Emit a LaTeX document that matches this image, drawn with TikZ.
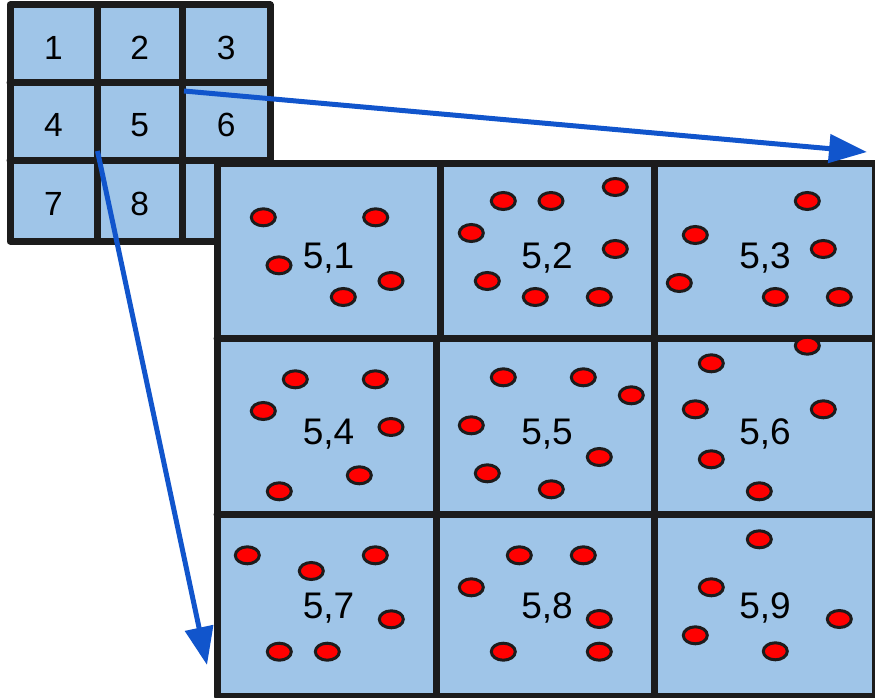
\documentclass[tikz,border=0pt]{standalone}
\usepackage{fontspec}
\setmainfont{Liberation Sans}
\usetikzlibrary{arrows.meta}
\definecolor{cellblue}{HTML}{9FC5E8}
\definecolor{gridline}{HTML}{1C1C1C}
\definecolor{arrowblue}{HTML}{1155CC}
\begin{document}
\begin{tikzpicture}[x=1pt,y=-1pt,
 gridstroke/.style={draw=gridline, line width=7pt, line join=round, line cap=round},
 dotmark/.style={fill=red, draw=gridline, line width=3pt},
 biglabel/.style={anchor=base, inner sep=0pt, font=\fontsize{37}{37}\selectfont},
 smalllabel/.style={anchor=base, inner sep=0pt, font=\fontsize{33.5}{33.5}\selectfont},
 bluearrow/.style={draw=arrowblue, line width=5pt, -{Triangle[length=38pt,width=28pt]}}]
\useasboundingbox (0,0) rectangle (875,698);
% small grid
\fill[cellblue] (10,5) rectangle (270,241);
\draw[gridstroke] (10,5) rectangle (270,241);
\draw[gridstroke] (97,5) -- (97,241) (182.5,5) -- (182.5,241) (10,83) -- (270,83) (10,160) -- (270,160);
\node[smalllabel] (n1) at (53.5,59.3) {1};
\node[smalllabel] (n2) at (139.7,59.3) {2};
\node[smalllabel] (n3) at (226.2,59.3) {3};
\node[smalllabel] (n4) at (53.5,136.7) {4};
\node[smalllabel] (n5) at (139.7,136.7) {5};
\node[smalllabel] (n6) at (226.2,136.7) {6};
\node[smalllabel] (n7) at (53.5,215) {7};
\node[smalllabel] (n8) at (139.7,215) {8};
% big grid
\fill[cellblue] (217,163.5) rectangle (875.5,696.5);
\draw[gridstroke] (217,163.5) rectangle (875.5,696.5);
\draw[gridstroke] (217,338.5) -- (875.5,338.5) (217,514.3) -- (875.5,514.3)
  (440,163.5) -- (440,338.5) (654.5,163.5) -- (654.5,696.5) (436,338.5) -- (436,696.5);
\node[biglabel] (m1) at (328.5,268) {5,1};
\node[biglabel] (m2) at (547,268) {5,2};
\node[biglabel] (m3) at (765,268) {5,3};
\node[biglabel] (m4) at (328.5,444) {5,4};
\node[biglabel] (m5) at (547,444) {5,5};
\node[biglabel] (m6) at (765,444) {5,6};
\node[biglabel] (m7) at (328.5,618.3) {5,7};
\node[biglabel] (m8) at (547,618.3) {5,8};
\node[biglabel] (m9) at (765,618.3) {5,9};
% dots
\foreach \px/\py in {
 263.3/217.3, 375.7/217.3, 279/265.3, 391/281, 343.3/297,
 503.3/201, 551/201, 615.3/187, 471.3/233, 615.3/249, 487.3/281, 535.3/297, 599.3/297,
 807.3/201, 695.3/235, 823.3/249, 679.3/283, 775.3/297, 839.3/297,
 295.3/379.3, 375.3/379.3, 263.3/411, 391/427, 359.3/475.3, 279.3/491.3,
 503.3/377.3, 583.3/377.3, 631.3/395.3, 471.3/425.3, 599.3/457, 487.3/473.3, 551.3/489.3,
 807.3/345.7, 711.3/363.3, 695.3/409.3, 823.3/409.3, 711.3/459.3, 759.3/491.3,
 247.3/555.3, 375.3/555.3, 311.3/571, 391.3/619.3, 279.3/651.7, 327.3/651.7,
 519.3/555.3, 583.3/555.3, 471.3/587.3, 599.3/619, 503.3/651.7, 599.3/651.7,
 759.3/539.3, 711.3/587.3, 839.3/619, 695.3/635.3, 775.3/651.3}
 {\draw[dotmark] (\px,\py) ellipse [x radius=12, y radius=8.5];}
% arrows
\coordinate (s1) at (184,91);
\coordinate (e1) at (867,152);
\coordinate (s2) at (97.5,151);
\coordinate (e2) at (207,665);
\draw[bluearrow] (s1) -- (e1);
\draw[bluearrow] (s2) -- (e2);
\end{tikzpicture}
\end{document}
